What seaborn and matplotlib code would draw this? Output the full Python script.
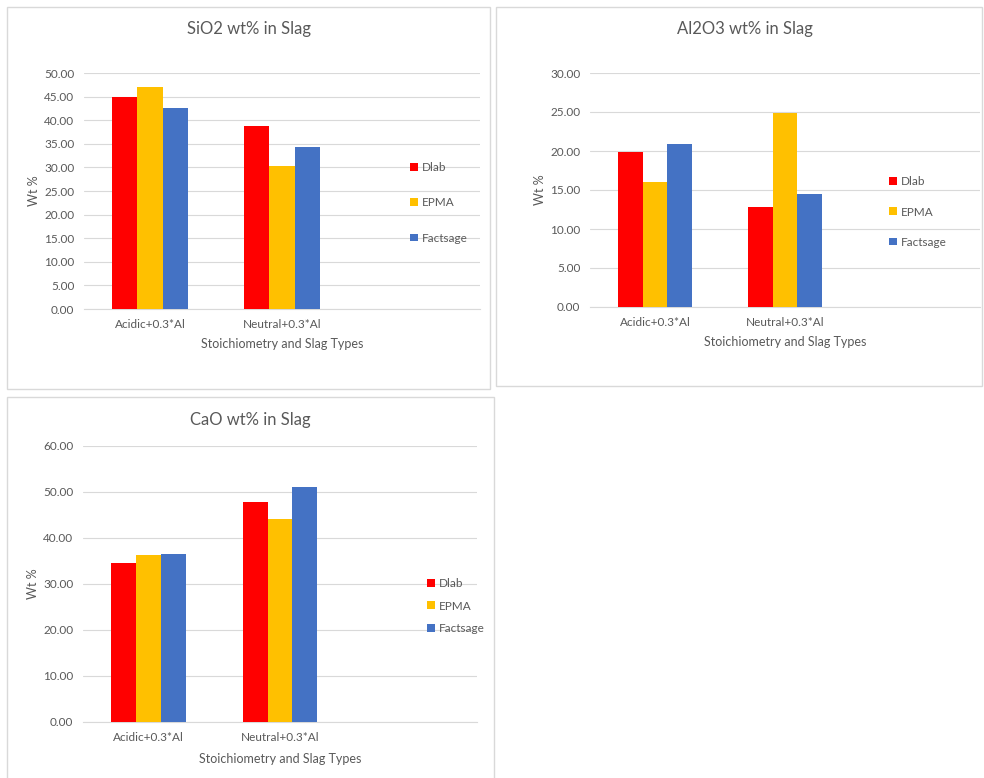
import matplotlib
matplotlib.use("Agg")
import matplotlib.pyplot as plt
import seaborn as sns
import pandas as pd
from matplotlib.patches import Rectangle
from matplotlib.ticker import FormatStrFormatter, MultipleLocator

# ---------------- data ----------------
categories = ["Acidic+0.3*Al", "Neutral+0.3*Al"]
sources = ["Dlab", "EPMA", "Factsage"]

sio2_dlab = [45.0, 38.8]
sio2_epma = [47.0, 30.2]
sio2_factsage = [42.6, 34.4]

al2o3_dlab = [19.9, 12.8]
al2o3_epma = [16.0, 24.9]
al2o3_factsage = [20.9, 14.55]

cao_dlab = [34.6, 47.9]
cao_epma = [36.4, 44.1]
cao_factsage = [36.5, 51.1]

titles = ["SiO2 wt% in Slag", "Al2O3 wt% in Slag", "CaO wt% in Slag"]
x_label = "Stoichiometry and Slag Types"
y_label = "Wt %"
colors = ["#FF0000", "#FFC000", "#4472C4"]

# ---------------- style ----------------
sns.set_theme(style="white")
plt.rcParams["font.family"] = ["Lato", "DejaVu Sans"]
TXT = "#595959"
GRID = "#D9D9D9"

W, H = 984, 778
fig = plt.figure(figsize=(W / 100, H / 100), dpi=100)


def frame(x0, y0, x1, y1):
    fig.patches.append(Rectangle((x0 / W, 1 - y1 / H), (x1 - x0) / W, (y1 - y0) / H,
                                 transform=fig.transFigure, fill=False,
                                 edgecolor="#D9D9D9", linewidth=1.0))


def make_df(d, e, f):
    rows = []
    for src, vals in zip(sources, [d, e, f]):
        for c, v in zip(categories, vals):
            rows.append({"Type": c, "Source": src, "Wt": v})
    return pd.DataFrame(rows)


panels = [
    dict(frame=(7, 7, 490, 389), ax=(84, 73, 480, 309), ymax=50, step=5, xl=29,
         leg=(410, 203, 2.05), title=(248.5, 29), data=(sio2_dlab, sio2_epma, sio2_factsage)),
    dict(frame=(496, 7, 982, 386), ax=(590, 73, 980, 307), ymax=30, step=5, xl=29,
         leg=(889, 212, 1.62), title=(745, 29), data=(al2o3_dlab, al2o3_epma, al2o3_factsage)),
    dict(frame=(7, 397, 494, 790), ax=(83, 446, 477, 722), ymax=60, step=10, xl=31,
         leg=(427, 606, 0.98), title=(250, 420), data=(cao_dlab, cao_epma, cao_factsage)),
]

for p, title in zip(panels, titles):
    frame(*p["frame"])
    l, t, r, b = p["ax"]
    ax = fig.add_axes([l / W, 1 - b / H, (r - l) / W, (b - t) / H])
    df = make_df(*p["data"])
    sns.barplot(data=df, x="Type", y="Wt", hue="Source", order=categories,
                hue_order=sources, palette=colors, saturation=1, width=0.57, gap=0,
                linewidth=0, ax=ax, zorder=3)
    ax.set_xlim(-0.5, 2.5)
    ax.set_ylim(0, p["ymax"])
    ax.yaxis.set_major_locator(MultipleLocator(p["step"]))
    ax.yaxis.set_major_formatter(FormatStrFormatter("%.2f"))
    ax.set_xticks([0, 1])
    ax.set_xticklabels(categories)
    ax.grid(axis="y", color=GRID, linewidth=0.8, zorder=0)
    ax.set_axisbelow(True)
    for s in ["top", "right", "left"]:
        ax.spines[s].set_visible(False)
    ax.spines["bottom"].set_color(GRID)
    ax.spines["bottom"].set_linewidth(0.8)
    ax.tick_params(axis="both", length=0, labelsize=8.5, labelcolor=TXT)
    ax.tick_params(axis="x", pad=7.5)
    ax.tick_params(axis="y", pad=7)
    hpx = b - t
    wpx = r - l
    ax.set_xlabel(x_label, fontsize=9, color=TXT)
    ax.set_ylabel(y_label, fontsize=9, color=TXT)
    ax.xaxis.set_label_coords(0.5, -p["xl"] / hpx)
    ax.yaxis.set_label_coords(-44 / wpx, 0.5)

    handles, labels = ax.get_legend_handles_labels()
    lx, ly, sp = p["leg"]
    ax.legend(handles, labels, loc="center left",
              bbox_to_anchor=(lx / W, 1 - ly / H), bbox_transform=fig.transFigure,
              frameon=False, fontsize=8.5, labelcolor=TXT,
              handlelength=0.65, handleheight=0.65, handletextpad=0.35,
              labelspacing=sp, borderpad=0, borderaxespad=0)

    tx, ty = p["title"]
    fig.text(tx / W, 1 - ty / H, title, ha="center", va="center",
             fontsize=12, color=TXT)

fig.savefig("out.png", dpi=100)
